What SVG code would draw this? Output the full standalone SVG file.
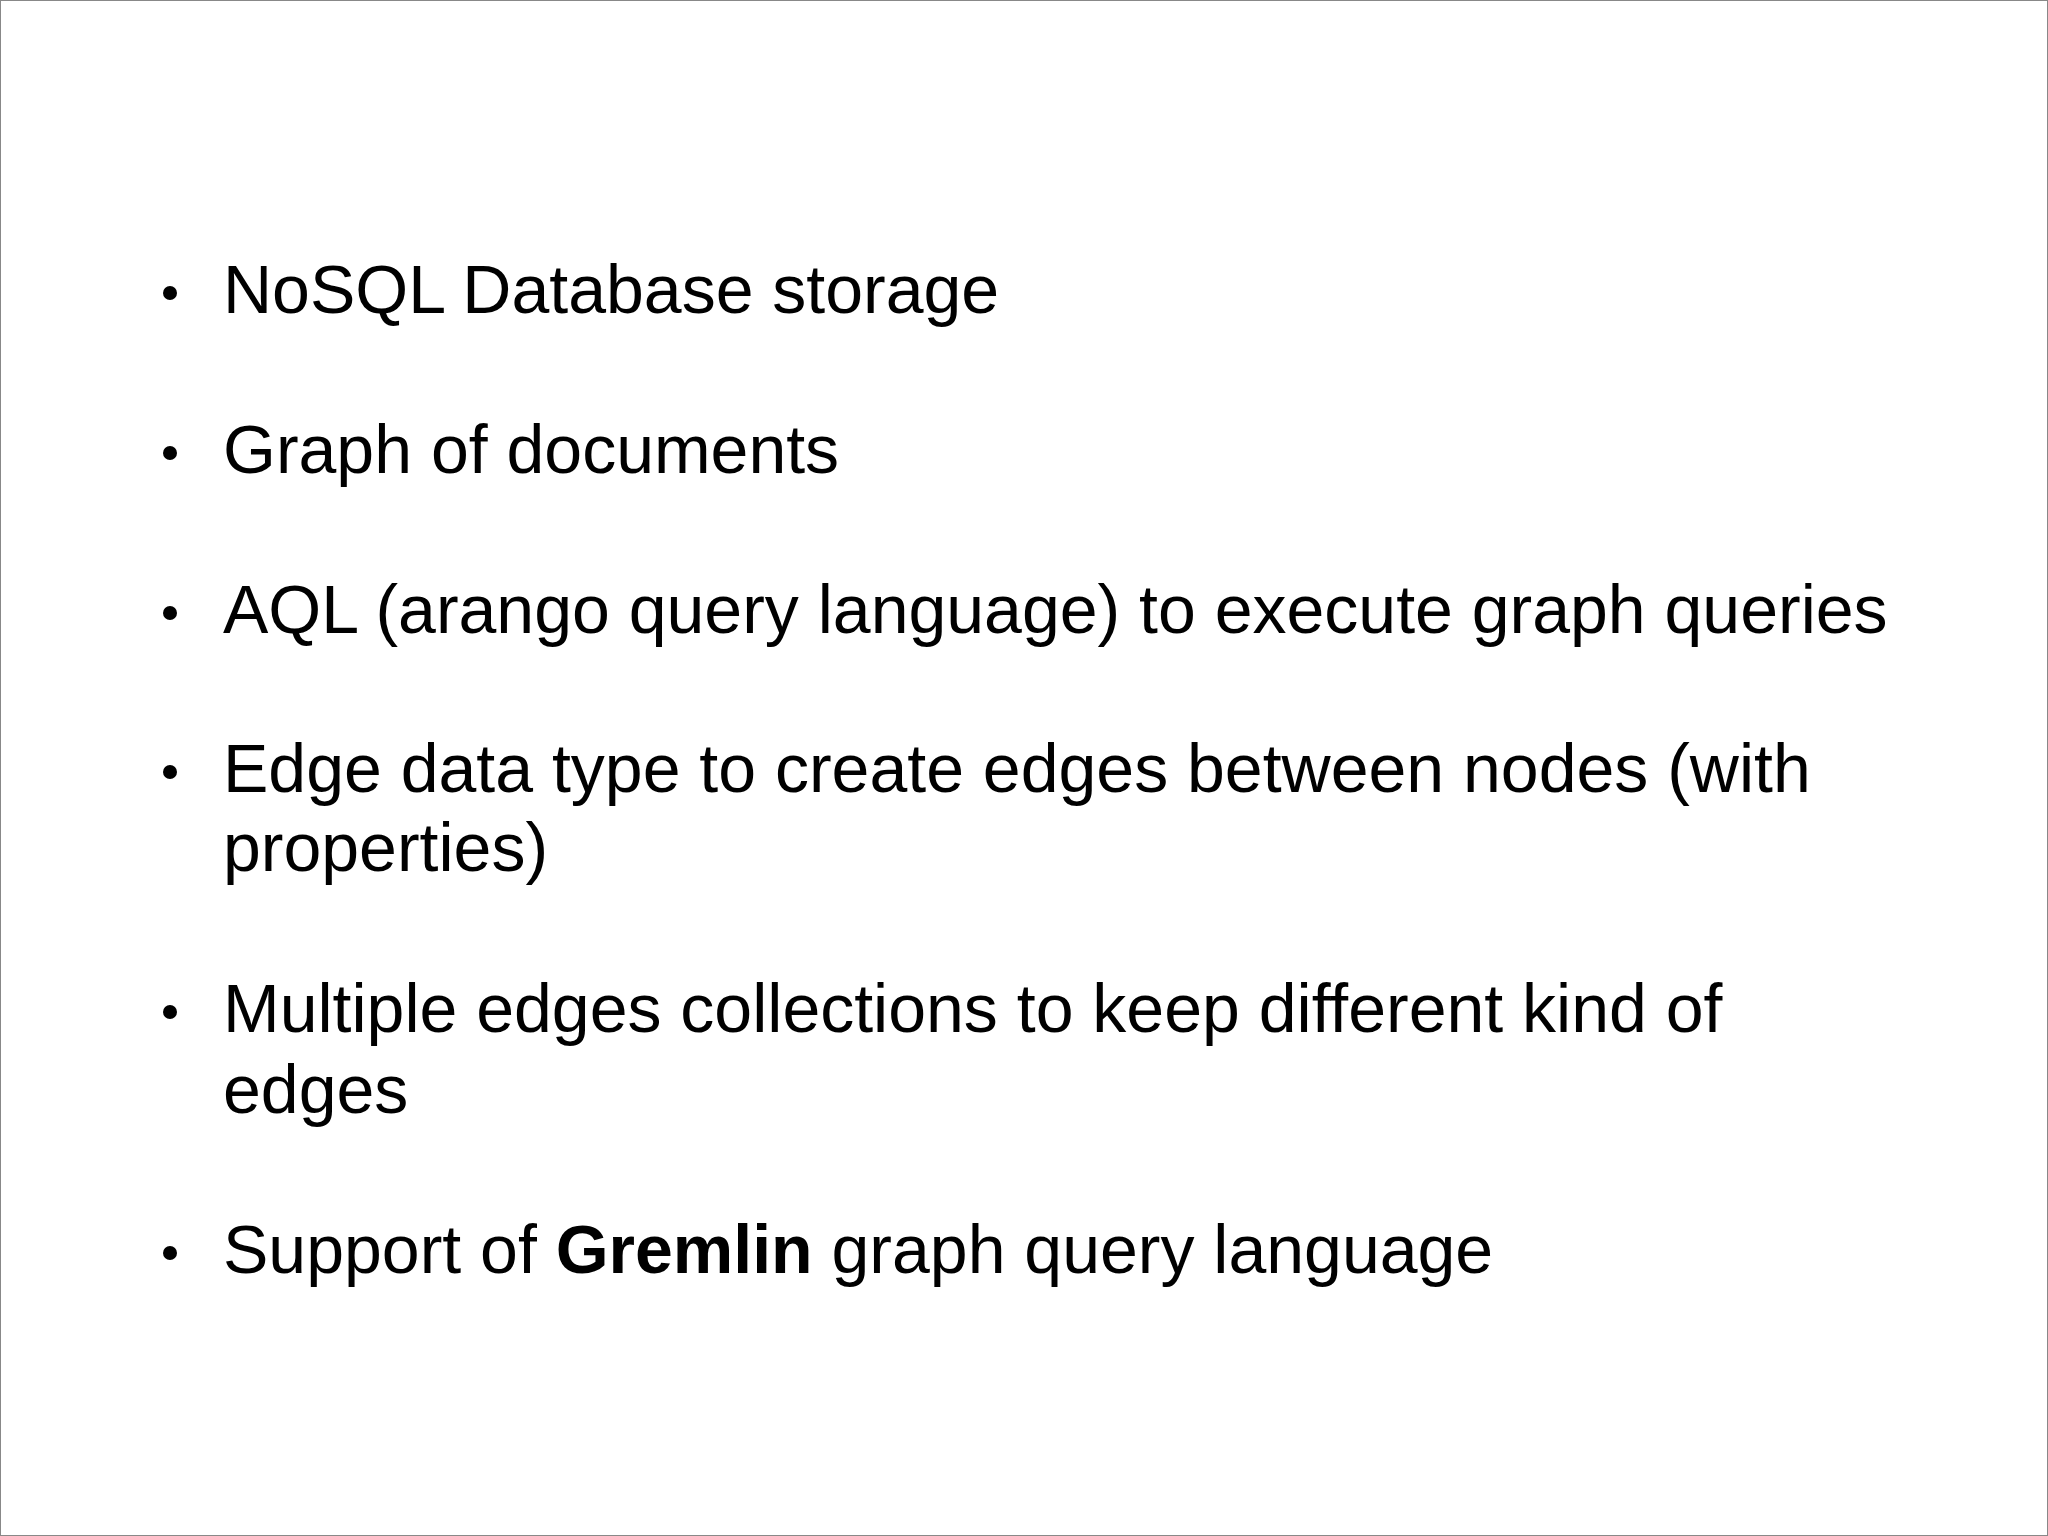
<svg xmlns="http://www.w3.org/2000/svg" width="2048" height="1536" viewBox="0 0 2048 1536">
<style>
.t{font-family:"Liberation Sans",Arial,sans-serif;font-size:68px;fill:#000}
.b{font-weight:bold}
</style>
<rect x="0.5" y="0.5" width="2047" height="1535" fill="#fff" stroke="#888" stroke-width="1"/>
<g id="list">
<circle cx="170" cy="293" r="7"/><text class="t" x="223" y="313">NoSQL Database storage</text>
<circle cx="170" cy="453" r="7"/><text class="t" x="223" y="473">Graph of documents</text>
<circle cx="170" cy="613" r="7"/><text class="t" x="223" y="633">AQL (arango query language) to execute graph queries</text>
<circle cx="170" cy="772" r="7"/><text class="t" x="223" y="792">Edge data type to create edges between nodes (with</text>
<text class="t" x="223" y="871">properties)</text>
<circle cx="170" cy="1012" r="7"/><text class="t" x="223" y="1032">Multiple edges collections to keep different kind of</text>
<text class="t" x="223" y="1113">edges</text>
<circle cx="170" cy="1253" r="7"/><text class="t" x="223" y="1273">Support of <tspan class="b">Gremlin</tspan> graph query language</text>
</g>
</svg>
